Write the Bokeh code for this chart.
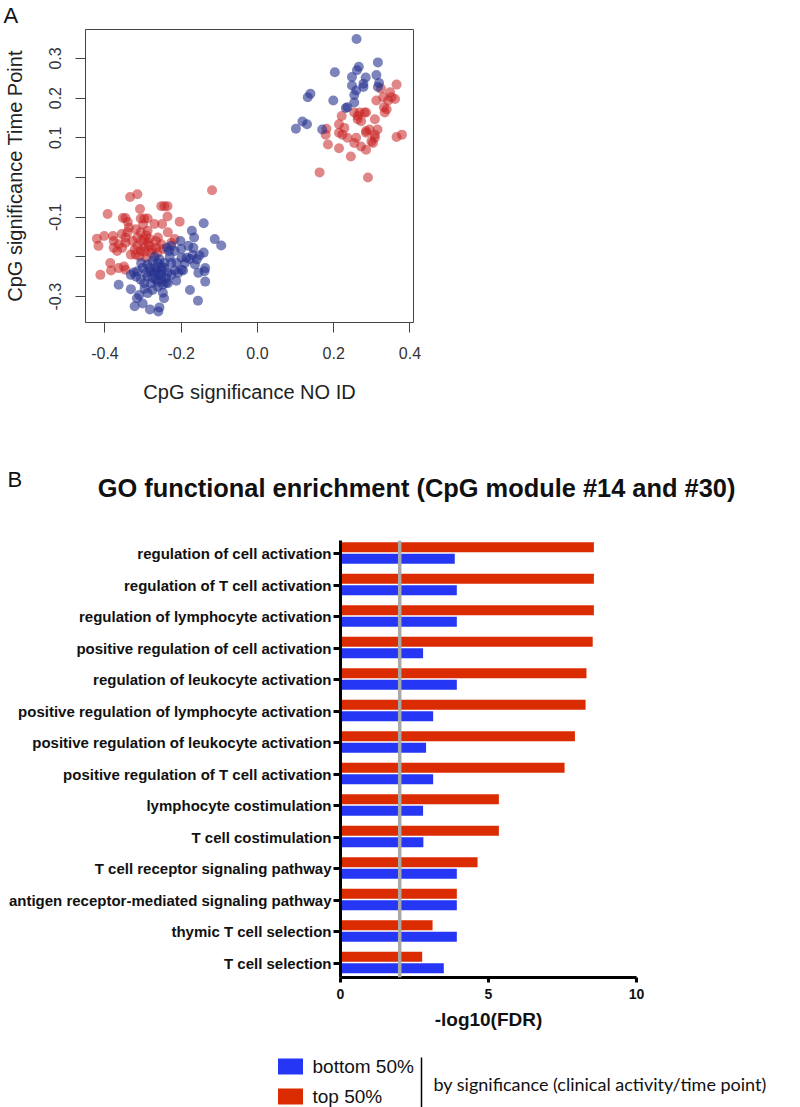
import numpy as np
from bokeh.plotting import figure
from bokeh.models import Range1d, FixedTicker, Span
from bokeh.core.properties import value
from bokeh.embed import file_html
from bokeh.resources import INLINE

# ---------------- Panel A data (CpG significance) ----------------
red_points = [
    (-0.119, -0.032), (-0.334, -0.049), (-0.315, -0.042), (-0.252, -0.072), (-0.244, -0.072),
    (-0.236, -0.072), (-0.393, -0.092), (-0.353, -0.102), (-0.346, -0.102), (-0.306, -0.103),
    (-0.297, -0.103), (-0.288, -0.103), (-0.308, -0.079), (-0.236, -0.098), (-0.204, -0.111),
    (-0.270, -0.117), (-0.250, -0.117), (-0.337, -0.126), (-0.341, -0.138), (-0.346, -0.151),
    (-0.319, -0.130), (-0.306, -0.138), (-0.288, -0.134), (-0.235, -0.138), (-0.421, -0.154),
    (-0.402, -0.147), (-0.417, -0.172), (-0.379, -0.147), (-0.377, -0.160), (-0.364, -0.168),
    (-0.368, -0.185), (-0.377, -0.177), (-0.355, -0.177), (-0.346, -0.164), (-0.328, -0.160),
    (-0.315, -0.151), (-0.297, -0.155), (-0.284, -0.154), (-0.261, -0.151), (-0.252, -0.168),
    (-0.315, -0.172), (-0.306, -0.185), (-0.297, -0.177), (-0.284, -0.172), (-0.279, -0.189),
    (-0.275, -0.181), (-0.266, -0.177), (-0.310, -0.198), (-0.292, -0.202), (-0.319, -0.194),
    (-0.332, -0.194), (-0.386, -0.215), (-0.384, -0.234), (-0.412, -0.245), (-0.364, -0.228),
    (-0.350, -0.224), (-0.346, -0.232), (-0.217, -0.155), (-0.226, -0.164), (-0.266, -0.160),
    (-0.300, -0.118), (-0.292, -0.145), (-0.305, -0.160), (-0.287, -0.165), (-0.296, -0.186),
    (-0.322, -0.182), (-0.262, -0.190), (-0.247, -0.180), (-0.340, -0.112), (-0.356, -0.142),
    (0.365, 0.234), (0.324, 0.224), (0.348, 0.215), (0.312, 0.194), (0.330, 0.202),
    (0.352, 0.202), (0.339, 0.172), (0.334, 0.164), (0.308, 0.147), (0.332, 0.177),
    (0.221, 0.155), (0.254, 0.164), (0.268, 0.164), (0.281, 0.164), (0.263, 0.147),
    (0.285, 0.164), (0.214, 0.134), (0.181, 0.123), (0.179, 0.108), (0.214, 0.113),
    (0.236, 0.100), (0.259, 0.100), (0.285, 0.113), (0.294, 0.121), (0.315, 0.121),
    (0.308, 0.100), (0.365, 0.102), (0.379, 0.108), (0.254, 0.087), (0.272, 0.078),
    (0.285, 0.070), (0.303, 0.087), (0.185, 0.083), (0.214, 0.074), (0.245, 0.053),
    (0.163, 0.013), (0.290, 0.000), (0.263, 0.155), (0.285, 0.117), (0.272, 0.142),
    (0.308, 0.108), (0.299, 0.091), (0.223, 0.108), (0.228, 0.125), (0.343, 0.194),
    (0.361, 0.198),
]
blue_points = [
    (-0.141, -0.115), (-0.172, -0.134), (-0.166, -0.151), (-0.202, -0.160), (-0.112, -0.155),
    (-0.095, -0.171), (-0.181, -0.172), (-0.168, -0.177), (-0.237, -0.177), (-0.226, -0.172),
    (-0.217, -0.185), (-0.199, -0.202), (-0.186, -0.202), (-0.177, -0.205), (-0.159, -0.206),
    (-0.141, -0.189), (-0.164, -0.219), (-0.137, -0.228), (-0.139, -0.236), (-0.155, -0.240),
    (-0.195, -0.234), (-0.217, -0.234), (-0.235, -0.239), (-0.252, -0.224), (-0.261, -0.215),
    (-0.275, -0.211), (-0.288, -0.219), (-0.301, -0.228), (-0.315, -0.236), (-0.332, -0.245),
    (-0.324, -0.239), (-0.292, -0.240), (-0.279, -0.236), (-0.266, -0.234), (-0.252, -0.245),
    (-0.239, -0.253), (-0.226, -0.245), (-0.266, -0.257), (-0.279, -0.266), (-0.297, -0.266),
    (-0.306, -0.257), (-0.261, -0.275), (-0.275, -0.283), (-0.288, -0.291), (-0.248, -0.270),
    (-0.235, -0.266), (-0.364, -0.270), (-0.332, -0.281), (-0.310, -0.296), (-0.316, -0.304),
    (-0.301, -0.317), (-0.322, -0.324), (-0.282, -0.332), (-0.260, -0.337), (-0.257, -0.327),
    (-0.245, -0.304), (-0.177, -0.283), (-0.156, -0.310), (-0.137, -0.262), (-0.266, -0.228),
    (-0.257, -0.206), (-0.270, -0.240), (-0.252, -0.234), (-0.244, -0.215), (-0.226, -0.215),
    (-0.212, -0.215), (-0.288, -0.249), (-0.275, -0.253), (-0.252, -0.257), (-0.208, -0.240),
    (-0.199, -0.232), (-0.190, -0.215), (-0.152, -0.196), (-0.270, -0.200), (-0.258, -0.245),
    (-0.244, -0.228), (-0.230, -0.200), (-0.283, -0.228), (-0.262, -0.262), (-0.248, -0.290),
    (-0.296, -0.280), (-0.213, -0.260), (-0.232, -0.185), (-0.170, -0.195), (-0.200, -0.180),
    (-0.318, -0.250), (-0.305, -0.215), (-0.240, -0.265),
    (0.260, 0.349), (0.316, 0.290), (0.203, 0.265), (0.261, 0.270), (0.266, 0.279),
    (0.284, 0.252), (0.312, 0.258), (0.319, 0.238), (0.248, 0.253), (0.254, 0.208),
    (0.278, 0.228), (0.278, 0.236), (0.248, 0.232), (0.254, 0.189), (0.199, 0.194),
    (0.132, 0.202), (0.139, 0.211), (0.232, 0.175), (0.101, 0.123), (0.118, 0.141),
    (0.130, 0.134), (0.170, 0.121), (0.316, 0.228), (0.259, 0.219), (0.236, 0.177),
]
red_x = [p[0] for p in red_points]
red_y = [p[1] for p in red_points]
blue_x = [p[0] for p in blue_points]
blue_y = [p[1] for p in blue_points]

a_x_ticks = [-0.4, -0.2, 0.0, 0.2, 0.4]
a_x_labels = ["-0.4", "-0.2", "0.0", "0.2", "0.4"]
a_y_ticks = [-0.3, -0.2, -0.1, 0.0, 0.1, 0.2, 0.3]
a_y_labels = ["-0.3", "", "-0.1", "", "0.1", "0.2", "0.3"]

# ---------------- Panel B data (GO enrichment) ----------------
categories = [
    "regulation of cell activation",
    "regulation of T cell activation",
    "regulation of lymphocyte activation",
    "positive regulation of cell activation",
    "regulation of leukocyte activation",
    "positive regulation of lymphocyte activation",
    "positive regulation of leukocyte activation",
    "positive regulation of T cell activation",
    "lymphocyte costimulation",
    "T cell costimulation",
    "T cell receptor signaling pathway",
    "antigen receptor-mediated signaling pathway",
    "thymic T cell selection",
    "T cell selection",
]
top50 = [8.56, 8.56, 8.56, 8.52, 8.31, 8.28, 7.92, 7.57, 5.35, 5.35, 4.63, 3.93, 3.11, 2.76]
bottom50 = [3.86, 3.93, 3.93, 2.79, 3.93, 3.13, 2.89, 3.13, 2.79, 2.80, 3.93, 3.93, 3.93, 3.49]
b_x_ticks = [0, 5, 10]
fdr_threshold = 2.0
legend_labels = ["bottom 50%", "top 50%"]
legend_note = "by significance (clinical activity/time point)"

RED_PT = "#C92323"
BLUE_PT = "#27328F"
RED_BAR = "#DB2B00"
BLUE_BAR = "#2537F5"
AX_FONT = "Liberation Sans"
W = 784


def blank(height):
    """A figure used only as a canvas for panel letters / titles / legend (pixel coordinates)."""
    f = figure(width=W, height=height, x_range=Range1d(0, W), y_range=Range1d(height, 0),
               x_axis_location=None, y_axis_location=None, output_backend="svg",
               toolbar_location=None, min_border=0, outline_line_color=None)
    f.grid.visible = False
    return f


# ---------------- header A ----------------
hA = blank(28)
hA.text(x=[3], y=[15], text=["A"], text_font=value(AX_FONT), text_font_size=value("22px"),
        text_color="#111111", text_baseline="middle", text_align="left")

# ---------------- Figure A ----------------
pa = figure(frame_width=328, frame_height=293,
            x_range=Range1d(-0.451, 0.4094), y_range=Range1d(-0.365, 0.3728),
            output_backend="svg", toolbar_location=None,
            min_border_left=84, min_border_right=372, min_border_top=1, min_border_bottom=118)
pa.scatter(red_x, red_y, size=10, fill_color=RED_PT, fill_alpha=0.55, line_color=None)
pa.scatter(blue_x, blue_y, size=10, fill_color=BLUE_PT, fill_alpha=0.6, line_color=None)
pa.grid.visible = False
pa.outline_line_color = "#444444"
pa.outline_line_width = 1
pa.outline_line_alpha = 1

for ax in (pa.xaxis[0], pa.yaxis[0]):
    ax.axis_line_color = "#444444"
    ax.major_tick_line_color = "#444444"
    ax.major_tick_out = 10
    ax.major_tick_in = 0
    ax.minor_tick_line_color = None
    ax.major_label_text_font = AX_FONT
    ax.major_label_text_font_size = "16px"
    ax.major_label_text_color = "#333333"
    ax.axis_label_text_font = AX_FONT
    ax.axis_label_text_font_size = "20px"
    ax.axis_label_text_font_style = "normal"
    ax.axis_label_text_color = "#222222"

pa.xaxis.ticker = FixedTicker(ticks=a_x_ticks)
pa.xaxis.major_label_overrides = dict(zip(a_x_ticks, a_x_labels))
pa.xaxis.bounds = (-0.4, 0.4)
pa.xaxis.major_label_standoff = 14
pa.xaxis.axis_label = "CpG significance NO ID"
pa.xaxis.axis_label_standoff = 19

pa.yaxis.ticker = FixedTicker(ticks=a_y_ticks)
pa.yaxis.major_label_overrides = dict(zip(a_y_ticks, a_y_labels))
pa.yaxis.bounds = (-0.3, 0.3)
pa.yaxis.major_label_orientation = "vertical"
pa.yaxis.major_label_standoff = 14
pa.yaxis.axis_label = "CpG significance Time Point"
pa.yaxis.axis_label_standoff = 21

# ---------------- header B ----------------
hB = blank(100)
hB.text(x=[7], y=[39], text=["B"], text_font=value(AX_FONT), text_font_size=value("22px"),
        text_color="#111111", text_baseline="middle", text_align="left")
hB.text(x=[416], y=[47], text=["GO functional enrichment (CpG module #14 and #30)"],
        text_font=value(AX_FONT), text_font_size=value("25.4px"), text_font_style="bold",
        text_color="#111111", text_baseline="middle", text_align="center")

# ---------------- Figure B ----------------
idx = np.arange(len(categories))
pb = figure(frame_width=296, frame_height=437, x_range=Range1d(0, 10), y_range=Range1d(13.46, -0.413),
            output_backend="svg", toolbar_location=None,
            min_border_left=340, min_border_right=148, min_border_top=0, min_border_bottom=58)
pb.hbar(y=idx - 0.2, left=0, right=top50, height=0.317, fill_color=RED_BAR, line_color=None)
pb.hbar(y=idx + 0.168, left=0, right=bottom50, height=0.317, fill_color=BLUE_BAR, line_color=None)
pb.add_layout(Span(location=fdr_threshold, dimension="height", line_color="#A8A8A8", line_width=3.5))
pb.grid.visible = False
pb.outline_line_color = None

for ax in (pb.xaxis[0], pb.yaxis[0]):
    ax.axis_line_color = "black"
    ax.axis_line_width = 3
    ax.major_tick_line_color = "black"
    ax.major_tick_line_width = 3
    ax.major_tick_in = 0
    ax.minor_tick_line_color = None
    ax.major_label_text_font = AX_FONT
    ax.major_label_text_font_style = "bold"
    ax.major_label_text_color = "#111111"

pb.yaxis.ticker = FixedTicker(ticks=[int(i) for i in idx])
pb.yaxis.major_label_overrides = {int(i): c for i, c in zip(idx, categories)}
pb.yaxis.major_tick_out = 7
pb.yaxis.major_label_standoff = 2
pb.yaxis.major_label_text_font_size = "15px"

pb.xaxis.ticker = FixedTicker(ticks=b_x_ticks)
pb.xaxis.major_tick_out = 5
pb.xaxis.major_label_standoff = 6
pb.xaxis.major_label_text_font_size = "14px"
pb.xaxis.axis_label = "-log10(FDR)"
pb.xaxis.axis_label_text_font = AX_FONT
pb.xaxis.axis_label_text_font_size = "19px"
pb.xaxis.axis_label_text_font_style = "bold"
pb.xaxis.axis_label_text_color = "#111111"
pb.xaxis.axis_label_standoff = 7

# ---------------- legend strip ----------------
lg = blank(72)
lg.rect(x=[290, 290], y=[31, 61], width=25, height=16, fill_color=[BLUE_BAR, RED_BAR], line_color=None)
lg.text(x=[312, 312], y=[31, 61], text=legend_labels, text_font=value(AX_FONT),
        text_font_size=value("19px"), text_color="#111111", text_baseline="middle", text_align="left")
lg.segment(x0=[421], y0=[22], x1=[421], y1=[72], line_color="black", line_width=1.5)
lg.text(x=[433], y=[48], text=[legend_note], text_font=value("Lato"),
        text_font_size=value("18px"), text_color="#111111", text_baseline="middle", text_align="left")

# separate roots, stacked as blocks (avoids frame alignment between panels)
open("out.html", "w").write(file_html([hA, pa, hB, pb, lg], INLINE))
